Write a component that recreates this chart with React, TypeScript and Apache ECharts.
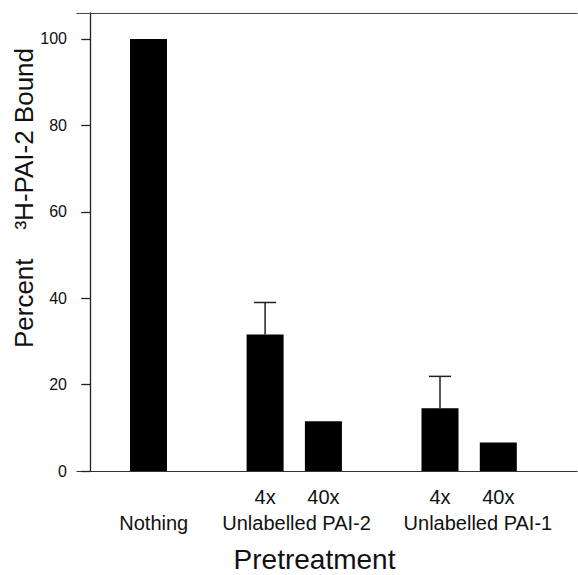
import React, { useEffect, useRef } from "react";
import * as echarts from "echarts";

// Data
const barLabels = ["Nothing", "4x", "40x", "4x", "40x"];
const barSlots = [1, 3, 4, 6, 7]; // slot index along the treatment axis
const percentBound = [100, 31.6, 11.5, 14.5, 6.6];
const errorTop = [null, 39.0, null, 21.9, null];
const groupLabels = ["Unlabelled PAI-2", "Unlabelled PAI-1"];
const yTicks = [0, 20, 40, 60, 80, 100];

const FONT = "'Liberation Sans', Arial, Helvetica, sans-serif";

export default function App() {
  const ref = useRef<HTMLDivElement>(null);
  useEffect(() => {
    if (!ref.current) return;
    const chart = echarts.init(ref.current, undefined, { renderer: "svg" });
    const xMin = -0.2264;
    const xMax = 8.35;
    const smallLabelValues = barSlots.slice(1);
    const groupValues = [1.09, 3.54, 6.65];
    const groupNames = [barLabels[0], ...groupLabels];

    const option: any = {
      animation: false,
      backgroundColor: "#fff",
      grid: { left: 77, right: 1, top: 13, bottom: 104, containLabel: false, outerBoundsMode: "none" },
      xAxis: [
        {
          type: "value",
          min: xMin,
          max: xMax,
          position: "bottom",
          splitLine: { show: false },
          axisLine: { show: true, lineStyle: { color: "#333", width: 1.2 } },
          axisTick: { show: false },
          axisLabel: {
            customValues: smallLabelValues,
            margin: 16,
            fontSize: 20,
            color: "#111",
            fontFamily: FONT,
            formatter: (v: number) => {
              const i = barSlots.indexOf(v);
              return i >= 0 ? barLabels[i] : "";
            },
          },
        },
        {
          type: "value",
          min: xMin,
          max: xMax,
          position: "top",
          splitLine: { show: false },
          axisLine: { show: true, lineStyle: { color: "#444", width: 1.2 } },
          axisTick: { show: false },
          axisLabel: { show: false },
        },
        {
          type: "value",
          min: xMin,
          max: xMax,
          position: "bottom",
          splitLine: { show: false },
          axisLine: { show: false },
          axisTick: { show: false },
          axisLabel: {
            customValues: groupValues,
            margin: 42,
            fontSize: 20,
            color: "#111",
            fontFamily: FONT,
            formatter: (v: number) => {
              const i = groupValues.indexOf(v);
              return i >= 0 ? groupNames[i] : "";
            },
          },
        },
      ],
      yAxis: {
        type: "value",
        min: 0,
        max: 106,
        splitLine: { show: false },
        axisLine: { show: true, lineStyle: { color: "#222", width: 1.3 } },
        axisTick: {
          show: true,
          length: 9,
          customValues: yTicks,
          lineStyle: { color: "#222", width: 1.3 },
        },
        axisLabel: {
          customValues: yTicks,
          margin: 10,
          fontSize: 16,
          color: "#111",
          fontFamily: FONT,
        },
      },
      series: [
        {
          type: "bar",
          xAxisIndex: 0,
          barWidth: 37,
          itemStyle: { color: "#000" },
          data: barSlots.map((s, i) => [s, percentBound[i]]),
        },
        {
          type: "custom",
          xAxisIndex: 0,
          data: barSlots
            .map((s, i) => [s, percentBound[i], errorTop[i]])
            .filter((d) => d[2] != null),
          renderItem: (params: any, api: any) => {
            const x = api.value(0);
            const base = api.coord([x, api.value(1)]);
            const top = api.coord([x, api.value(2)]);
            const half = 11;
            const style = { stroke: "#222", lineWidth: 1.5 };
            return {
              type: "group",
              children: [
                { type: "line", shape: { x1: base[0], y1: base[1], x2: top[0], y2: top[1] }, style },
                { type: "line", shape: { x1: top[0] - half, y1: top[1], x2: top[0] + half, y2: top[1] }, style },
              ],
            };
          },
        },
      ],
      graphic: [
        {
          type: "text",
          x: 24,
          y: 198,
          rotation: Math.PI / 2,
          style: {
            text: "Percent    ³H-PAI-2 Bound",
            fontSize: 26,
            fontFamily: FONT,
            fill: "#111",
            align: "center",
            verticalAlign: "middle",
          },
        },
        {
          type: "text",
          x: 314.5,
          y: 559,
          style: {
            text: "Pretreatment",
            fontSize: 28,
            fontFamily: FONT,
            fill: "#111",
            align: "center",
            verticalAlign: "middle",
          },
        },
      ],
    };
    chart.setOption(option);
    return () => chart.dispose();
  }, []);
  return <div ref={ref} style={{ width: 578, height: 575, position: "absolute", left: 0, top: 0 }} />;
}
